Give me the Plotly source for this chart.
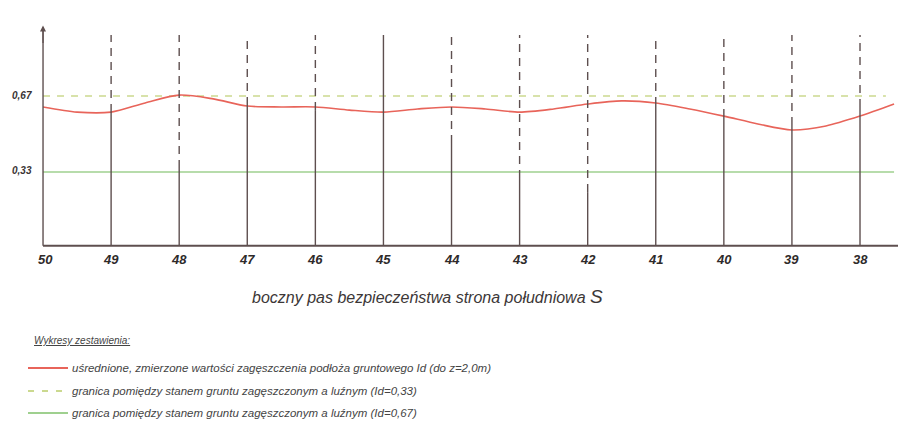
import plotly.graph_objects as go

# ---------------- data ----------------
stations = [50, 49, 48, 47, 46, 45, 44, 43, 42, 41, 40, 39, 38]
station_labels = ["50", "49", "48", "47", "46", "45", "44", "43", "42", "41", "40", "39", "38"]

# top of the solid part of each vertical probe line (Id units); above it the line is dashed
solid_top = [None, 0.598, 0.348, 0.630, 0.607, 0.943, 0.460, 0.303, 0.240, 0.630, 0.576, 0.540, 0.621]
dash_top = 0.943

# averaged, measured Id curve
curve_x = [50, 49.5, 49, 48.5, 48, 47.5, 47, 46.5, 46, 45.5, 45, 44.5, 44, 43.5, 43,
           42.5, 42, 41.5, 41, 40.5, 40, 39.5, 39, 38.5, 38, 37.5]
curve_y = [0.621, 0.598, 0.598, 0.639, 0.674, 0.657, 0.625, 0.621, 0.621, 0.607, 0.598,
           0.612, 0.621, 0.612, 0.598, 0.612, 0.634, 0.648, 0.639, 0.612, 0.580, 0.545,
           0.518, 0.536, 0.580, 0.634]

limit_upper = 0.67
limit_lower = 0.33
y_tick_vals = [0.67, 0.33]
y_tick_text = ["0,67", "0,33"]

x_title = "boczny pas bezpieczeństwa strona południowa <span style='font-size:19px'>S</span>"
legend_title = "Wykresy zestawienia:"
legend_texts = [
    "uśrednione, zmierzone wartości zagęszczenia podłoża gruntowego Id (do z=2,0m)",
    "granica pomiędzy stanem gruntu zagęszczonym a luźnym (Id=0,33)",
    "granica pomiędzy stanem gruntu zagęszczonym a luźnym (Id=0,67)",
]

# ---------------- styling ----------------
W, H = 898, 430
x_range = [50.632, 37.442]
y_range = [-0.8244, 1.0995]
axis_col = "#5e4f4f"
red = "#e8645a"
yellow_green = "#cbd98f"
green = "#9fd08f"
FONT = "Liberation Sans, Arial, sans-serif"

fig = go.Figure()

# horizontal limit lines
fig.add_trace(go.Scatter(x=[stations[0], 37.62], y=[limit_upper, limit_upper], mode="lines",
                         line=dict(color=yellow_green, width=1.6, dash="7px,7px"),
                         showlegend=False, hoverinfo="skip"))
fig.add_trace(go.Scatter(x=[stations[0], 37.5], y=[limit_lower, limit_lower], mode="lines",
                         line=dict(color=green, width=1.6),
                         showlegend=False, hoverinfo="skip"))

shapes = []
# vertical probe lines
for s, st in zip(stations, solid_top):
    if st is None:
        continue
    shapes.append(dict(type="line", xref="x", yref="y", x0=s, x1=s, y0=0, y1=st,
                       line=dict(color=axis_col, width=1.4)))
    if st < dash_top:
        shapes.append(dict(type="line", xref="x", yref="y", x0=s, x1=s, y0=st, y1=dash_top,
                           line=dict(color=axis_col, width=1.4, dash="8px,6px")))

# axes
shapes.append(dict(type="line", xref="x", yref="y", x0=stations[0], x1=x_range[1], y0=0, y1=0,
                   line=dict(color=axis_col, width=1.8)))
shapes.append(dict(type="line", xref="x", yref="y", x0=stations[0], x1=stations[0], y0=0, y1=0.97,
                   line=dict(color=axis_col, width=1.4)))

# red curve
fig.add_trace(go.Scatter(x=curve_x, y=curve_y, mode="lines",
                         line=dict(color=red, width=1.6, shape="spline", smoothing=0.8),
                         showlegend=False, hoverinfo="skip"))

annotations = []
# y-axis arrow
annotations.append(dict(x=stations[0], y=0.985, ax=stations[0], ay=0.90, xref="x", yref="y",
                        axref="x", ayref="y", showarrow=True, arrowhead=2, arrowsize=1,
                        arrowwidth=1.2, arrowcolor=axis_col, text=""))
# tick labels
for s, lab in zip(stations, station_labels):
    annotations.append(dict(x=s, y=0, xref="x", yref="y", text=f"<b><i>{lab}</i></b>",
                            showarrow=False, yanchor="middle", yshift=-14,
                            xshift=2 if s == stations[0] else 0,
                            font=dict(family=FONT, size=13, color="#2e2a2a")))
for v, t in zip(y_tick_vals, y_tick_text):
    annotations.append(dict(x=stations[0], y=v, xref="x", yref="y", text=f"<b><i>{t}</i></b>",
                            showarrow=False, yanchor="middle", xshift=-21, yshift=1,
                            font=dict(family=FONT, size=10, color="#3a3434")))
# x title
annotations.append(dict(x=427 / W, y=1 - 296 / H, xref="paper", yref="paper",
                        xanchor="center", yanchor="middle",
                        text=f"<i>{x_title}</i>", showarrow=False,
                        font=dict(family=FONT, size=16, color="#3c3737")))

# legend (manual)
annotations.append(dict(x=32 / W, y=1 - 340 / H, xref="paper", yref="paper",
                        xanchor="left", yanchor="middle",
                        text=f"<i><u>{legend_title}</u></i>", showarrow=False,
                        font=dict(family=FONT, size=10, color="#444")))
leg_rows = [368, 391, 413]
leg_styles = [dict(color=red, width=1.8), dict(color=yellow_green, width=1.8, dash="6px,8px"),
              dict(color=green, width=1.8)]
for row, sty, txt in zip(leg_rows, leg_styles, legend_texts):
    shapes.append(dict(type="line", xref="paper", yref="paper", x0=28 / W, x1=68 / W,
                       y0=1 - row / H, y1=1 - row / H, line=sty))
    annotations.append(dict(x=70 / W, y=1 - row / H, xref="paper", yref="paper",
                            xanchor="left", yanchor="middle",
                            text=f"<i>{txt}</i>", showarrow=False,
                            font=dict(family=FONT, size=11.5, color="#444")))

fig.update_layout(
    width=W, height=H,
    margin=dict(l=0, r=0, t=0, b=0),
    paper_bgcolor="white", plot_bgcolor="white",
    xaxis=dict(range=x_range, visible=False, domain=[0, 1]),
    yaxis=dict(range=y_range, visible=False, domain=[0, 1]),
    shapes=shapes, annotations=annotations, showlegend=False,
)

fig.write_html("out.html", config={"displayModeBar": False},
               post_script="document.body.style.margin='0';")
